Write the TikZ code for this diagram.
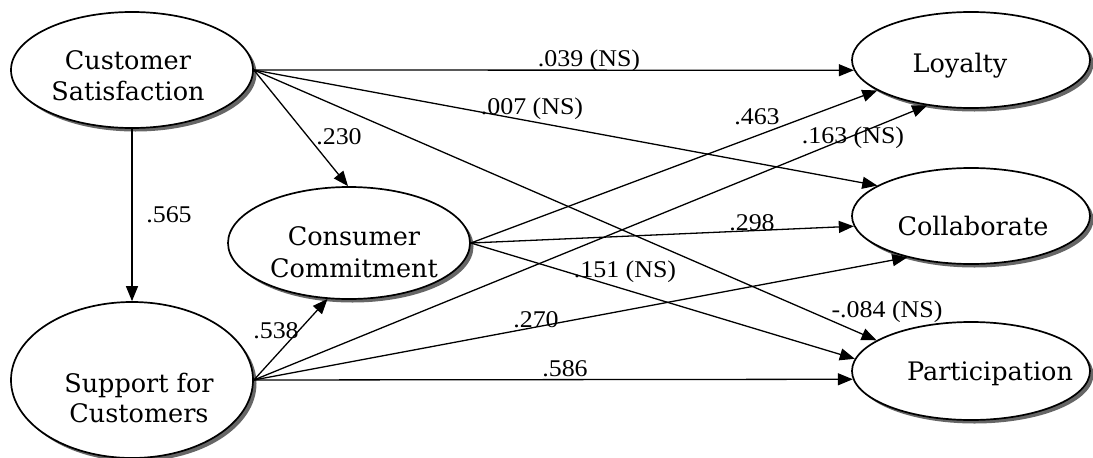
\documentclass[tikz,border=0pt]{standalone}
\usepackage{fontspec}
\setmainfont{Liberation Serif}
\newfontfamily\labfont{Liberation Serif}[FakeStretch=1.08]
\newfontfamily\nodefont{DejaVu Serif}
\usetikzlibrary{shapes.geometric,arrows.meta,shadows}
\begin{document}
\begin{tikzpicture}[x=1pt,y=-1pt,
  latent/.style={ellipse, draw, line width=1.7pt, fill=white, inner sep=0pt,
    drop shadow={shadow xshift=3.5pt, shadow yshift=-3.5pt, fill=black!60, opacity=1}},
  conn/.style={line width=1.3pt, -{Triangle[length=15pt,width=12pt]}},
  lab/.style={font=\labfont\fontsize{24}{28}\selectfont, inner sep=0pt},
  ntext/.style={font=\nodefont\fontsize{25.5}{30}\selectfont, inner sep=0pt, anchor=base},
]
\useasboundingbox (0,0) rectangle (1093,458);
\node[latent, minimum width=242pt, minimum height=116pt] (cs) at (132,70) {};
\node[latent, minimum width=242pt, minimum height=156pt] (sup) at (132,380) {};
\node[latent, minimum width=242pt, minimum height=112pt] (cc) at (349,243) {};
\node[latent, minimum width=238pt, minimum height=96pt] (loy) at (971,60) {};
\node[latent, minimum width=238pt, minimum height=96pt] (col) at (971,216) {};
\node[latent, minimum width=238pt, minimum height=98pt] (par) at (971,371) {};

\node[ntext] (cs1) at (128,69) {Customer};
\node[ntext] (cs2) at (128,100) {Satisfaction};
\node[ntext] (sup1) at (139,392) {Support for};
\node[ntext] (sup2) at (139,422) {Customers};
\node[ntext] (cc1) at (354,245) {Consumer};
\node[ntext] (cc2) at (354,277) {Commitment};
\node[ntext] (loyt) at (960,72) {Loyalty};
\node[ntext] (colt) at (973,235) {Collaborate};
\node[ntext] (part) at (990,380) {Participation};

\draw[conn] (cs.east) -- (loy.185);
\draw[conn] (cs.east) -- (col.162);
\draw[conn] (cs.east) -- (par.162);
\draw[conn] (cs.east) -- (cc.91);
\draw[conn] (cs.south) -- (sup.north);
\draw[conn] (cc.east) -- (loy.198);
\draw[conn] (cc.east) -- (col.185);
\draw[conn] (cc.east) -- (par.174);
\draw[conn] (sup.east) -- (cc.249);
\draw[conn] (sup.east) -- (loy.226);
\draw[conn] (sup.east) -- (col.213);
\draw[conn] (sup.east) -- (par.184);

\node[lab] (l1) at (589,61) {.039 (NS)};
\node[lab] (l2) at (532,109) {.007 (NS)};
\node[lab] (l3) at (757,117) {.463};
\node[lab] (l4) at (853,138) {.163 (NS)};
\node[lab] (l5) at (339,137) {.230};
\node[lab] (l6) at (169,215) {.565};
\node[lab] (l7) at (276,331) {.538};
\node[lab] (l8) at (752,223) {.298};
\node[lab] (l9) at (625,272) {.151 (NS)};
\node[lab] (l10) at (536,320) {.270};
\node[lab] (l11) at (565,369) {.586};
\node[lab] (l12) at (887,312) {-.084 (NS)};
\end{tikzpicture}
\end{document}
